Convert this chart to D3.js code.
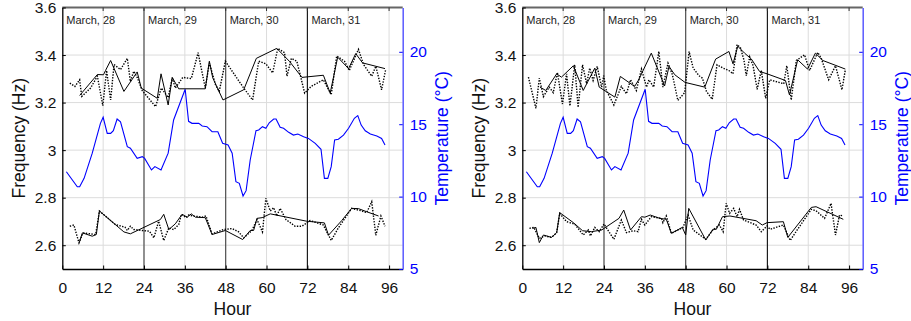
<!DOCTYPE html>
<html>
<head>
<meta charset="utf-8">
<script src="https://cdn.jsdelivr.net/npm/d3@7"></script>
<style>
  body { margin: 0; background: #fff; }
  svg { font-family: "Liberation Sans", Arial, sans-serif; }
</style>
</head>
<body>
<svg id="chart" width="911" height="321"></svg>
<script>
// ---- data (hour, value) ----
const hourTicks = [0, 12, 24, 36, 48, 60, 72, 84, 96];
const freqTicks = [2.6, 2.8, 3.0, 3.2, 3.4, 3.6];
const tempTicks = [5, 10, 15, 20];
const dayBounds = [24, 48, 72];
const dayLabels = ["March, 28", "March, 29", "March, 30", "March, 31"];
const dayStarts = [0, 24, 48, 72];

// temperature, same in both panels
const temperature = [[1.2,11.72],[4.4,10.68],[5.1,10.68],[6.4,11.26],[8.8,13.0],[11.2,15.06],[12.0,15.48],
  [13.2,14.37],[14.2,14.37],[15.0,14.55],[16.1,15.36],[17.1,15.17],[19.1,13.45],[20.0,13.34],[22.0,12.64],
  [23.5,12.76],[24.2,12.64],[26.2,11.84],[27.2,12.07],[29.0,11.84],[31.1,13.0],[32.7,15.29],[36.1,17.41],
  [37.1,15.2],[38.1,15.06],[40.1,15.06],[41.1,14.88],[42.5,14.83],[44.0,14.48],[45.7,14.48],[47.1,13.68],
  [48.7,13.56],[49.9,13.0],[51.0,11.03],[52.0,10.92],[53.1,10.04],[54.0,10.41],[55.2,12.53],[56.9,14.55],
  [57.7,14.6],[58.8,14.83],[59.8,14.72],[60.8,15.1],[62.1,15.36],[62.8,15.36],[64.0,14.79],[65.0,14.72],
  [66.5,14.44],[67.9,14.25],[69.2,14.32],[70.9,14.14],[72.3,14.02],[74.3,13.68],[76.0,13.27],[77.0,11.26],
  [78.0,11.26],[79.0,12.07],[80.0,13.91],[81.1,13.96],[82.6,14.25],[84.1,14.72],[85.8,15.41],[86.8,15.59],
  [87.8,14.94],[89.0,14.55],[90.5,14.32],[92.4,14.18],[93.8,14.02],[94.8,13.56]];

// left panel
const leftUpperSolid = [[5.1,3.230],[10.3,3.318],[12.1,3.317],[12.7,3.335],[14.2,3.377],[18.1,3.247],[22.0,3.329],
  [23.2,3.261],[27.9,3.218],[29.0,3.321],[31.1,3.190],[32.3,3.306],[34.2,3.258],[42.0,3.258],[43.2,3.374],
  [44.2,3.304],[47.2,3.211],[53.3,3.254],[57.0,3.386],[63.0,3.428],[66.7,3.374],[70.4,3.306],[76.7,3.315],
  [78.7,3.240],[80.9,3.391],[84.1,3.343],[86.2,3.406],[88.2,3.367],[94.8,3.343]];
const leftUpperDotted = [[2.2,3.282],[3.7,3.268],[5.1,3.296],[5.7,3.226],[8.3,3.261],[10.3,3.311],[11.9,3.187],
  [13.0,3.335],[14.2,3.211],[15.2,3.360],[17.1,3.339],[19.1,3.386],[20.0,3.289],[21.0,3.332],[22.0,3.306],
  [23.5,3.250],[27.4,3.183],[29.1,3.261],[31.1,3.221],[32.3,3.304],[33.2,3.261],[35.4,3.306],[37.9,3.301],
  [39.9,3.410],[42.0,3.261],[43.2,3.367],[45.0,3.275],[46.1,3.247],[47.9,3.374],[53.3,3.261],[55.9,3.211],
  [57.7,3.374],[59.8,3.363],[61.8,3.325],[63.3,3.428],[65.3,3.410],[66.0,3.311],[67.3,3.386],[68.9,3.374],
  [71.2,3.240],[73.1,3.268],[76.7,3.296],[79.0,3.233],[80.6,3.396],[82.9,3.374],[84.3,3.335],[87.0,3.424],
  [88.5,3.360],[90.9,3.311],[92.1,3.353],[93.8,3.254],[95.0,3.339]];
const leftLowerSolid = [[5.0,2.612],[5.9,2.652],[8.8,2.638],[10.0,2.645],[10.9,2.744],[18.1,2.656],[20.0,2.648],
  [28.8,2.708],[29.8,2.730],[31.3,2.666],[33.2,2.690],[35.2,2.730],[36.7,2.718],[37.9,2.732],[39.1,2.718],
  [42.0,2.716],[44.0,2.645],[47.9,2.662],[53.0,2.624],[55.2,2.662],[56.2,2.662],[57.2,2.713],[58.7,2.716],
  [61.1,2.732],[71.8,2.701],[77.0,2.694],[78.2,2.642],[82.1,2.704],[85.0,2.755],[87.0,2.754],[89.4,2.741],
  [92.9,2.723]];
const leftLowerDotted = [[2.2,2.680],[3.4,2.685],[4.9,2.610],[6.1,2.652],[9.8,2.645],[10.9,2.744],[15.6,2.687],
  [18.4,2.676],[19.1,2.662],[20.0,2.680],[21.0,2.666],[23.5,2.662],[25.6,2.659],[26.9,2.631],[28.3,2.701],
  [29.8,2.620],[31.3,2.673],[32.7,2.666],[34.2,2.687],[35.0,2.730],[36.4,2.716],[37.1,2.727],[38.6,2.723],
  [41.1,2.718],[42.2,2.723],[44.0,2.648],[47.4,2.666],[49.9,2.670],[51.8,2.656],[53.3,2.631],[55.7,2.662],
  [57.2,2.708],[58.8,2.656],[59.8,2.797],[61.1,2.744],[62.1,2.758],[63.0,2.723],[64.0,2.755],[65.7,2.708],
  [68.4,2.680],[70.4,2.680],[72.8,2.704],[76.7,2.685],[79.0,2.620],[81.1,2.673],[85.0,2.755],[88.0,2.744],
  [89.4,2.737],[90.9,2.783],[92.1,2.642],[93.6,2.723],[94.8,2.680]];

// right panel
const rightUpperSolid = [[5.2,3.265],[6.9,3.251],[10.1,3.321],[11.5,3.307],[15.0,3.355],[17.9,3.251],[21.3,3.345],
  [22.6,3.265],[27.2,3.223],[28.8,3.310],[33.0,3.268],[34.2,3.296],[37.9,3.408],[41.8,3.270],[43.1,3.352],
  [44.8,3.317],[47.8,3.285],[53.6,3.265],[56.8,3.383],[60.7,3.415],[61.9,3.363],[63.3,3.437],[65.3,3.408],
  [67.3,3.383],[69.7,3.331],[71.9,3.321],[77.3,3.293],[78.5,3.232],[80.9,3.380],[83.8,3.341],[86.1,3.408],
  [88.3,3.377],[94.9,3.341]];
const rightUpperDotted = [[1.8,3.307],[4.0,3.176],[5.0,3.303],[6.2,3.225],[7.9,3.265],[9.1,3.242],[10.3,3.327],
  [11.8,3.194],[13.0,3.321],[14.0,3.186],[15.4,3.359],[16.4,3.180],[17.7,3.359],[18.9,3.279],[19.8,3.345],
  [20.8,3.293],[22.0,3.352],[23.3,3.265],[23.9,3.313],[24.7,3.251],[26.9,3.190],[29.1,3.268],[30.6,3.237],
  [31.8,3.296],[33.5,3.251],[35.0,3.341],[36.5,3.265],[37.2,3.296],[38.6,3.265],[40.1,3.415],[41.3,3.265],
  [42.8,3.366],[44.1,3.317],[45.7,3.209],[47.7,3.242],[49.0,3.415],[50.2,3.345],[51.9,3.313],[52.9,3.303],
  [54.1,3.247],[55.8,3.214],[57.2,3.359],[59.0,3.345],[60.7,3.335],[61.9,3.321],[63.1,3.444],[64.1,3.430],
  [65.1,3.380],[65.8,3.313],[66.8,3.392],[67.8,3.355],[69.0,3.256],[70.2,3.335],[71.5,3.218],[72.7,3.296],
  [76.8,3.279],[77.7,3.355],[79.0,3.211],[80.5,3.377],[82.9,3.401],[84.4,3.335],[86.8,3.411],[87.8,3.387],
  [90.0,3.296],[92.0,3.355],[93.9,3.254],[94.9,3.338]];
const rightLowerSolid = [[3.0,2.671],[4.0,2.675],[5.0,2.611],[6.2,2.643],[8.6,2.633],[10.1,2.653],[11.0,2.737],
  [15.0,2.695],[17.7,2.661],[20.3,2.657],[23.3,2.664],[28.4,2.713],[29.8,2.748],[31.8,2.664],[35.0,2.720],
  [36.0,2.718],[37.6,2.727],[40.4,2.713],[42.3,2.709],[43.8,2.650],[47.0,2.675],[48.0,2.643],[48.9,2.755],
  [53.9,2.622],[56.0,2.667],[57.0,2.667],[58.8,2.720],[61.0,2.723],[68.7,2.703],[70.5,2.685],[71.9,2.695],
  [76.7,2.699],[78.0,2.633],[84.9,2.759],[86.3,2.762],[94.3,2.709]];
const rightLowerDotted = [[2.1,2.671],[3.4,2.675],[5.0,2.629],[6.6,2.639],[8.6,2.633],[10.1,2.653],[11.0,2.734],
  [13.0,2.699],[15.4,2.689],[17.9,2.643],[19.4,2.664],[20.0,2.639],[21.3,2.675],[22.6,2.657],[24.0,2.689],
  [26.9,2.625],[29.1,2.706],[30.6,2.653],[32.6,2.661],[34.0,2.657],[35.0,2.709],[36.0,2.685],[37.9,2.720],
  [40.9,2.713],[41.3,2.695],[42.3,2.723],[43.8,2.650],[47.2,2.675],[48.7,2.727],[50.2,2.664],[53.9,2.625],
  [56.0,2.664],[57.9,2.685],[59.0,2.657],[59.9,2.776],[60.9,2.734],[62.1,2.755],[63.1,2.720],[63.8,2.751],
  [65.0,2.706],[68.7,2.685],[70.2,2.657],[71.9,2.681],[72.8,2.667],[76.7,2.685],[78.7,2.620],[80.4,2.657],
  [84.9,2.751],[86.3,2.745],[88.8,2.713],[90.7,2.776],[92.0,2.643],[93.2,2.727],[94.3,2.723]];

// ---- layout ----
const svg = d3.select('#chart');
const margin = { top: 7.5, left: 62.3 };
const width = 340.4, height = 261.5;
const panelOffset = 460;

const x = d3.scaleLinear().domain([0, 100]).range([0, width]);
const yF = d3.scaleLinear().domain([2.5, 3.6]).range([height, 0]);
const yT = d3.scaleLinear().domain([5, 23.06]).range([height, 0]);

const freqLine = d3.line().x(d => x(d[0])).y(d => yF(d[1]));
const tempLine = d3.line().x(d => x(d[0])).y(d => yT(d[1]));

function drawPanel(dx, series) {
  const g = svg.append('g')
    .attr('transform', `translate(${margin.left + dx}, ${margin.top})`);

  // grid
  g.append('g').selectAll('line').data(hourTicks.slice(1)).join('line')
    .attr('x1', d => x(d)).attr('x2', d => x(d))
    .attr('y1', 0).attr('y2', height)
    .attr('stroke', '#dcdcdc').attr('stroke-width', 1);
  g.append('g').selectAll('line').data(freqTicks.slice(0, -1)).join('line')
    .attr('x1', 0).attr('x2', width)
    .attr('y1', d => yF(d)).attr('y2', d => yF(d))
    .attr('stroke', '#dcdcdc').attr('stroke-width', 1);

  // day separators
  g.append('g').selectAll('line').data(dayBounds).join('line')
    .attr('x1', d => x(d)).attr('x2', d => x(d))
    .attr('y1', 0).attr('y2', height)
    .attr('stroke', (d, i) => i < 2 ? '#444' : '#111').attr('stroke-width', 1.1);

  g.append('g').selectAll('text').data(dayLabels).join('text')
    .attr('x', (d, i) => x(dayStarts[i]) + 4)
    .attr('y', 16.5)
    .attr('font-size', 11).attr('fill', '#222')
    .text(d => d);

  // temperature
  g.append('path').datum(temperature)
    .attr('d', tempLine)
    .attr('fill', 'none').attr('stroke', '#0000ff').attr('stroke-width', 1.1);

  // frequencies
  series.forEach(s => {
    g.append('path').datum(s.data)
      .attr('d', freqLine)
      .attr('fill', 'none')
      .attr('stroke', '#000')
      .attr('stroke-width', s.dotted ? 1.4 : 1.0)
      .attr('stroke-dasharray', s.dotted ? '1.4,1.4' : null);
  });

  // top frame
  g.append('line').attr('x1', 0).attr('x2', width).attr('y1', 0).attr('y2', 0)
    .attr('stroke', '#666').attr('stroke-width', 2);
  g.append('g').selectAll('line').data(hourTicks.slice(1)).join('line')
    .attr('x1', d => x(d)).attr('x2', d => x(d))
    .attr('y1', 0).attr('y2', 3.5)
    .attr('stroke', '#333');

  // axes
  const xAxis = g.append('g')
    .attr('transform', `translate(0, ${height})`)
    .call(d3.axisBottom(x).tickValues(hourTicks).tickSizeInner(-3.5).tickSizeOuter(0).tickPadding(12.5));
  const yAxis = g.append('g')
    .call(d3.axisLeft(yF).tickValues(freqTicks).tickFormat(d3.format('~g'))
      .tickSizeInner(-3.5).tickSizeOuter(0).tickPadding(6));
  const tAxis = g.append('g')
    .attr('transform', `translate(${width}, 0)`)
    .call(d3.axisRight(yT).tickValues(tempTicks).tickSizeInner(-3.5).tickSizeOuter(0).tickPadding(7));

  [xAxis, yAxis].forEach(a => {
    a.selectAll('text').attr('font-size', 15.5).attr('fill', '#111').attr('font-family', null);
    a.select('.domain').attr('stroke', '#000').attr('stroke-width', 1.3);
  });
  tAxis.selectAll('text').attr('font-size', 15.5).attr('fill', '#0000ff').attr('font-family', null);
  tAxis.selectAll('line').attr('stroke', '#0000ff');
  tAxis.select('.domain').attr('stroke', '#5a5aff').attr('stroke-width', 1.5);

  // titles
  g.append('text')
    .attr('transform', `translate(${-37}, ${height / 2}) rotate(-90)`)
    .attr('text-anchor', 'middle').attr('font-size', 17.5).attr('fill', '#111')
    .text('Frequency (Hz)');
  g.append('text')
    .attr('transform', `translate(${width + 45.5}, ${height / 2}) rotate(-90)`)
    .attr('text-anchor', 'middle').attr('font-size', 17.5).attr('fill', '#0000ff')
    .text('Temperature (°C)');
  g.append('text')
    .attr('x', width / 2).attr('y', height + 46)
    .attr('text-anchor', 'middle').attr('font-size', 17.5).attr('fill', '#111')
    .text('Hour');
}

drawPanel(0, [
  { data: leftUpperDotted, dotted: true },
  { data: leftUpperSolid, dotted: false },
  { data: leftLowerDotted, dotted: true },
  { data: leftLowerSolid, dotted: false }
]);
drawPanel(panelOffset, [
  { data: rightUpperDotted, dotted: true },
  { data: rightUpperSolid, dotted: false },
  { data: rightLowerDotted, dotted: true },
  { data: rightLowerSolid, dotted: false }
]);
</script>
</body>
</html>
